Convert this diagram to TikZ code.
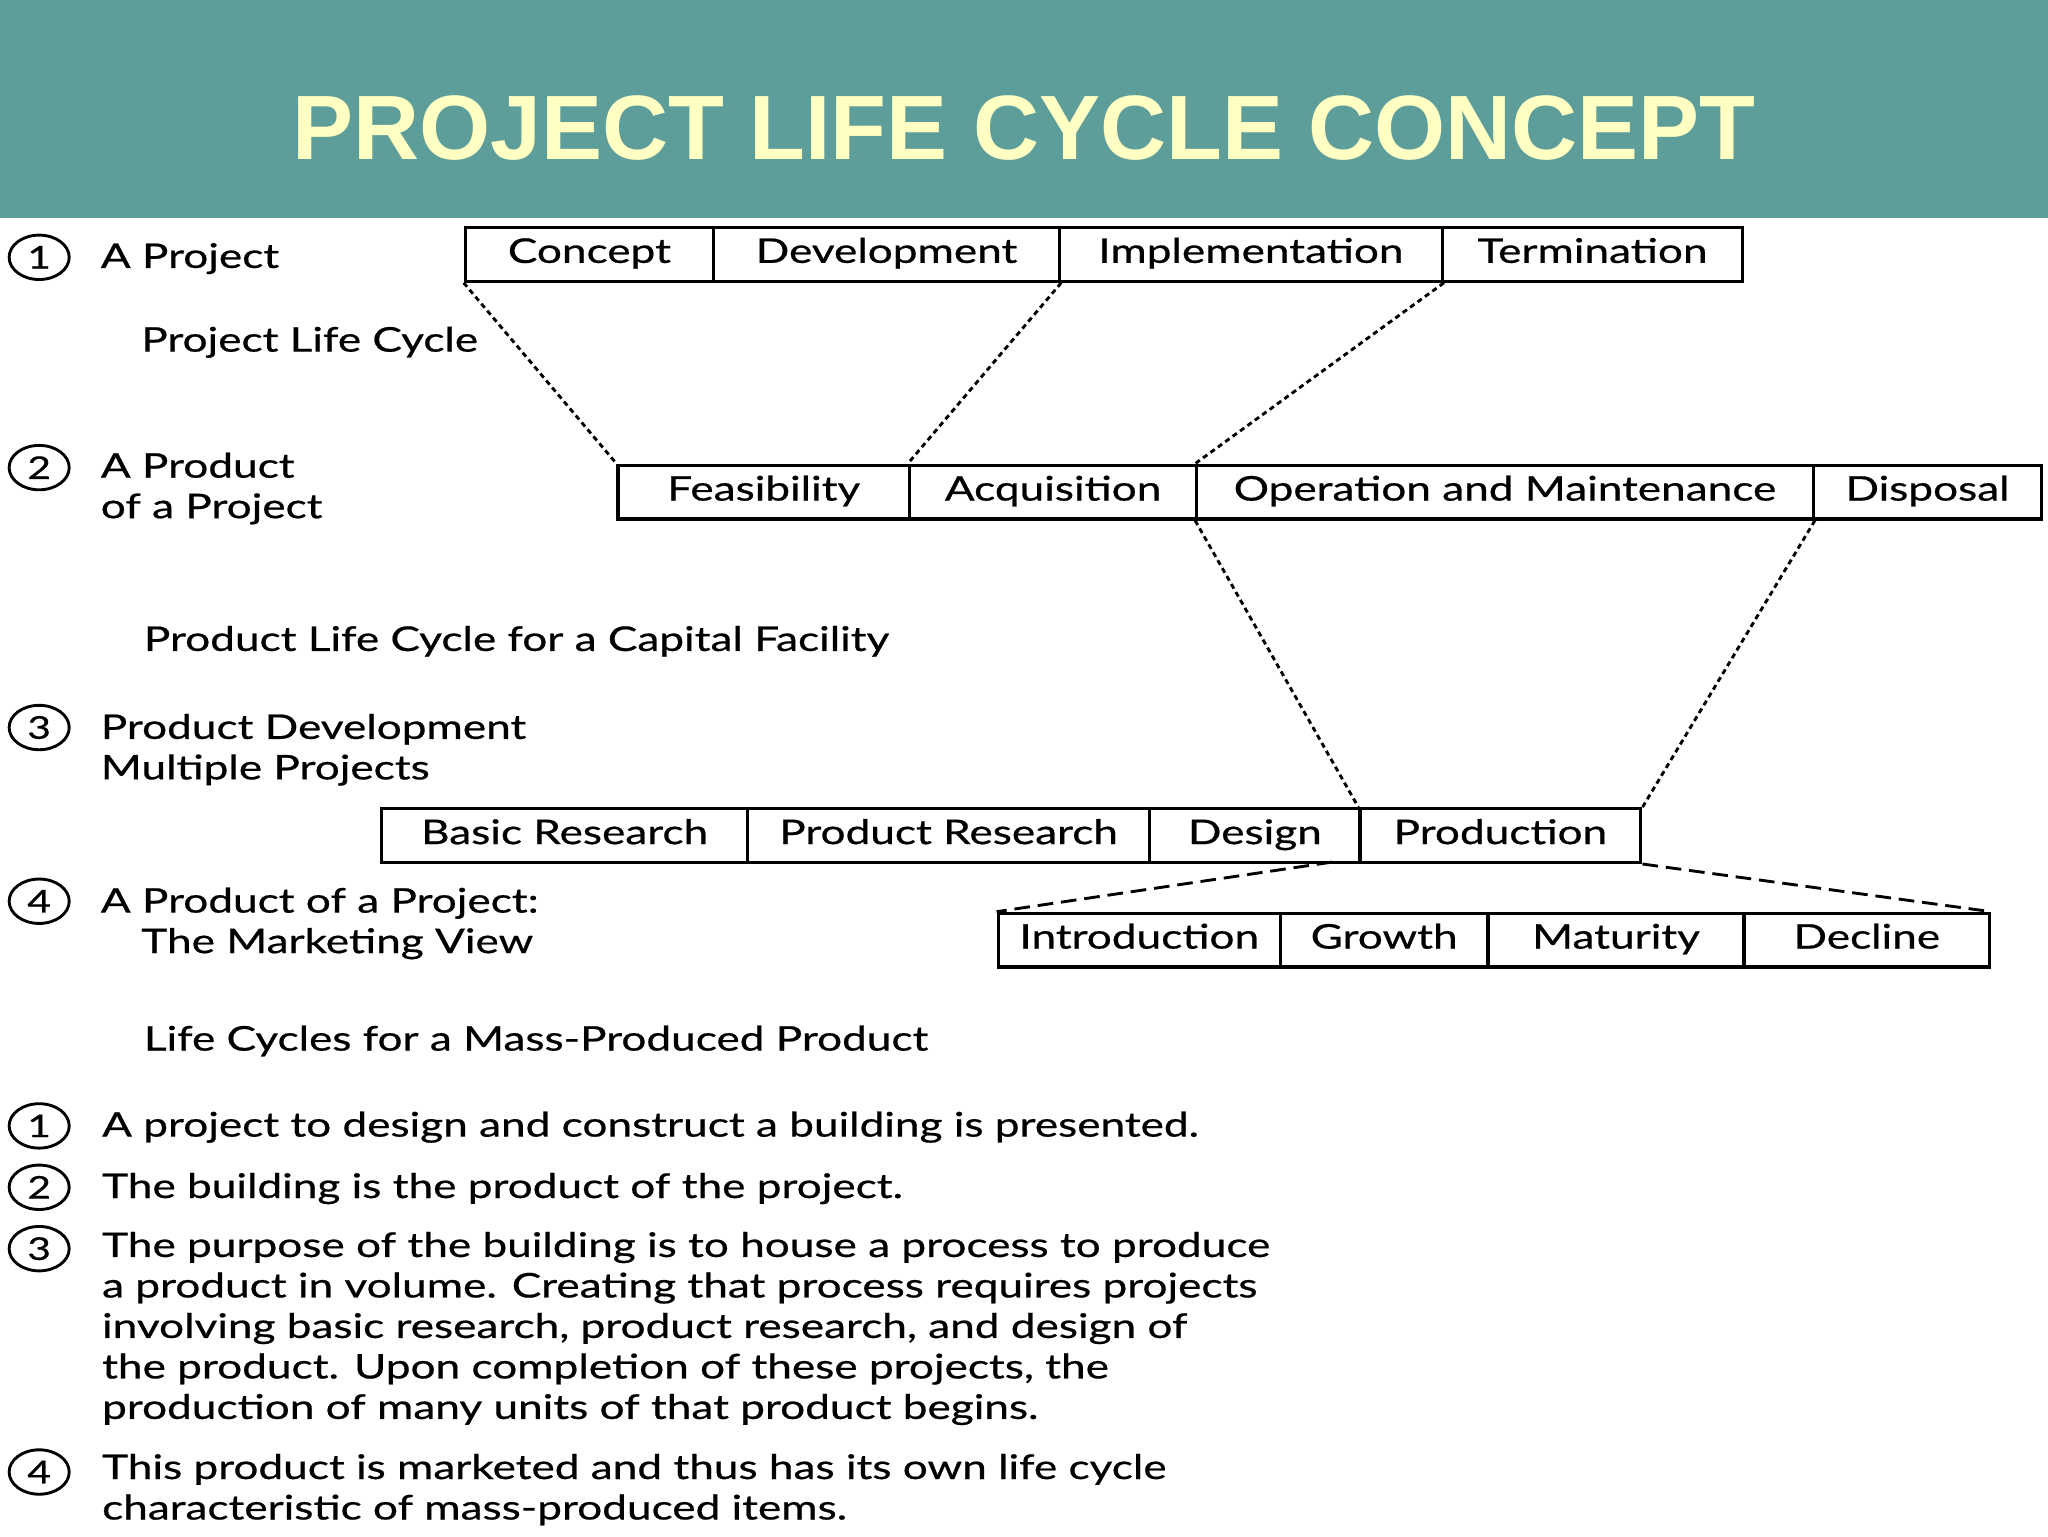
\documentclass[tikz,border=0pt]{standalone}
\usepackage{fontspec}
\setmainfont[FakeStretch=1.3,FakeBold=0.6]{Lato}
\newfontfamily\titlefont{Liberation Sans}
\usetikzlibrary{shapes.geometric}
\definecolor{teal1}{HTML}{5E9E9A}
\definecolor{ttl}{HTML}{FFFFC4}
\begin{document}
\begin{tikzpicture}[x=1pt,y=-1pt,
  bx/.style={draw,line width=2.5pt,minimum height=41pt,anchor=north west,inner sep=0pt,text height=18pt,text depth=5pt,font=\fontsize{26}{30}\selectfont},
  num/.style={draw,ellipse,line width=2.2pt,minimum width=46pt,minimum height=34pt,inner sep=0pt,font=\fontsize{24}{28}\selectfont},
  lbl/.style={anchor=west,align=left,inner sep=0pt,font=\fontsize{26}{31}\selectfont},
  dotl/.style={line width=2.2pt,dash pattern=on 4pt off 3pt},
  dashl/.style={line width=2.2pt,dash pattern=on 12pt off 6pt}]
\useasboundingbox (0,0) rectangle (1568,1176);
\fill[white] (0,0) rectangle (1568,1176);
\fill[teal1] (0,0) rectangle (1568,167);
\node[text=ttl,font=\titlefont\bfseries\fontsize{70}{74}\selectfont] (title) at (784,98) {PROJECT LIFE CYCLE CONCEPT};
% row 1
\node[bx,minimum width=190pt] (c1) at (355,173) {Concept};
\node[bx,minimum width=265pt] (c2) at (545,173) {Development};
\node[bx,minimum width=293pt] (c3) at (810,173) {Implementation};
\node[bx,minimum width=230pt] (c4) at (1103,173) {Termination};
% row 2
\node[bx,minimum width=223pt] (p1) at (472,355) {Feasibility};
\node[bx,minimum width=220pt] (p2) at (695,355) {Acquisition};
\node[bx,minimum width=472pt] (p3) at (915,355) {Operation and Maintenance};
\node[bx,minimum width=175pt] (p4) at (1387,355) {Disposal};
% row 3
\node[bx,minimum width=280pt] (d1) at (291,618) {Basic Research};
\node[bx,minimum width=308pt] (d2) at (571,618) {Product Research};
\node[bx,minimum width=161pt] (d3) at (879,618) {Design};
\node[bx,minimum width=215pt] (d4) at (1040,618) {Production};
% row 4
\node[bx,minimum width=216pt] (m1) at (763,698) {Introduction};
\node[bx,minimum width=159pt] (m2) at (979,698) {Growth};
\node[bx,minimum width=196pt] (m3) at (1138,698) {Maturity};
\node[bx,minimum width=188pt] (m4) at (1334,698) {Decline};
% connectors
\draw[dotl] (c1.south west) -- (p1.north west);
\draw[dotl] (c2.south east) -- (p2.north west);
\draw[dotl] (c3.south east) -- (p3.north west);
\draw[dotl] (p3.south west) -- (d4.north west);
\draw[dotl] (p3.south east) -- (d4.north east);
\coordinate (dl) at (1020,660);
\draw[dashl] (dl) -- (m1.north west);
\draw[dashl] (d4.south east) -- (m4.north east);
% left labels
\node[num] (n1) at (30,197) {1};
\node[lbl] (l1) at (77,198) {A Project};
\node[lbl] (l1b) at (108,262) {Project Life Cycle};
\node[num] (n2) at (30,358) {2};
\node[lbl] (l2) at (77,374) {A Product\\of a Project};
\node[lbl] (l2b) at (110,491) {Product Life Cycle for a Capital Facility};
\node[num] (n3) at (30,557) {3};
\node[lbl] (l3) at (77,574) {Product Development\\Multiple Projects};
\node[num] (n4) at (30,690) {4};
\node[lbl] (l4) at (77,707) {A Product of a Project:\\\hspace*{31pt}The Marketing View};
\node[lbl] (l4b) at (110,797) {Life Cycles for a Mass-Produced Product};
% notes
\node[num] (b1) at (30,862) {1};
\node[lbl] (t1) at (78,863) {A project to design and construct a building is presented.};
\node[num] (b2) at (30,909) {2};
\node[lbl] (t2) at (78,910) {The building is the product of the project.};
\node[num] (b3) at (30,956) {3};
\node[lbl,anchor=north west] (t3) at (78,943) {The purpose of the building is to house a process to produce\\a product in volume. Creating that process requires projects\\involving basic research, product research, and design of\\the product. Upon completion of these projects, the\\production of many units of that product begins.};
\node[num] (b4) at (30,1127) {4};
\node[lbl,anchor=north west] (t4) at (78,1113) {This product is marketed and thus has its own life cycle\\characteristic of mass-produced items.};
\end{tikzpicture}
\end{document}
